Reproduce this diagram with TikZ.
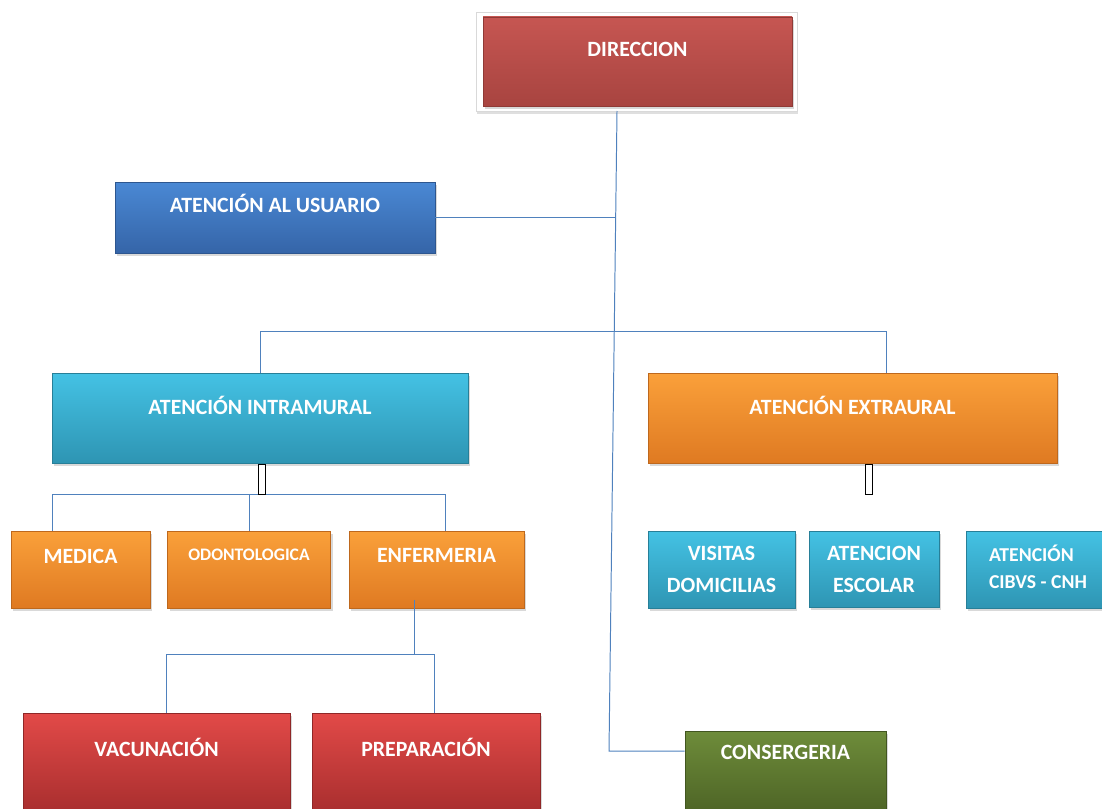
\documentclass[tikz,border=0pt]{standalone}
\usepackage{fontspec}
\setmainfont{Carlito}
\usetikzlibrary{shadows}

\definecolor{linkblue}{HTML}{4F81BD}
\definecolor{dirTop}{HTML}{C65652}
\definecolor{dirBot}{HTML}{A84440}
\definecolor{usuTop}{HTML}{4A88D4}
\definecolor{usuBot}{HTML}{3565A8}
\definecolor{cyanTop}{HTML}{44C2E4}
\definecolor{cyanBot}{HTML}{2E95B3}
\definecolor{orTop}{HTML}{FAA03A}
\definecolor{orBot}{HTML}{DF7A22}
\definecolor{redTop}{HTML}{E24A48}
\definecolor{redBot}{HTML}{A82E2E}
\definecolor{grTop}{HTML}{6E8C3A}
\definecolor{grBot}{HTML}{4E6526}

\begin{document}
\begin{tikzpicture}[x=0.025cm, y=-0.025cm,
  link/.style={draw=linkblue, line width=0.7pt},
  sz/.style 2 args={minimum width=#1*0.025cm, minimum height=#2*0.025cm},
  box/.style 2 args={rectangle, inner sep=0pt, top color=#1, bottom color=#2,
    draw=#2!85!black, line width=0.4pt, text=white,
    font=\bfseries\fontsize{15.5}{18}\selectfont,
    drop shadow={shadow xshift=1.5pt, shadow yshift=-2pt, opacity=0.3}},
  lift/.style={text height=10pt, text depth=#1},
  stub/.style={rectangle, inner sep=0pt, fill=white, draw=black, line width=0.6pt}]

\useasboundingbox (0,0) rectangle (1102,808);

% === Direccion ===
\node[rectangle, sz={321}{99}, fill=white, draw=black!15,
  drop shadow={shadow xshift=1pt, shadow yshift=-2pt, opacity=0.25}]
  (marco) at (636.5,61.5) {};
\node[box={dirTop}{dirBot}, sz={309}{89}, lift=16.4pt]
  (dir) at (637.5,61.5) {DIRECCION};

% === Atencion al usuario ===
\node[box={usuTop}{usuBot}, sz={320}{71}, lift=17.8pt]
  (usu) at (275,217.5) {ATENCIÓN AL USUARIO};

% === Intramural / Extramural ===
\node[box={cyanTop}{cyanBot}, sz={416}{90}, lift=15.6pt]
  (intra) at (260,418) {ATENCIÓN INTRAMURAL};
\node[box={orTop}{orBot}, sz={409}{90}, lift=15.6pt]
  (extra) at (852.5,418) {ATENCIÓN EXTRAURAL};

% === Intramural areas ===
\node[box={orTop}{orBot}, sz={139}{77}, lift=19.2pt]
  (med) at (80.5,569.5) {MEDICA};
\node[box={orTop}{orBot}, sz={163}{77}, lift=22.6pt,
  font=\bfseries\fontsize{12.5}{15}\selectfont]
  (odo) at (249,569.5) {ODONTOLOGICA};
\node[box={orTop}{orBot}, sz={175}{77}, lift=20.6pt]
  (enf) at (436.5,569.5) {ENFERMERIA};

% === Extramural areas ===
\node[box={cyanTop}{cyanBot}, sz={147}{77}, align=center,
  font=\bfseries\fontsize{15.5}{22.8}\selectfont]
  (vis) at (721.5,569.5) {VISITAS\\DOMICILIAS};
\node[box={cyanTop}{cyanBot}, sz={130}{76}, align=center,
  font=\bfseries\fontsize{15.5}{22.8}\selectfont]
  (esc) at (874,569) {ATENCION\\ESCOLAR};
\node[box={cyanTop}{cyanBot}, sz={144}{77},
  font=\bfseries\fontsize{14}{19.2}\selectfont]
  (cib) at (1038,569.5)
  {\raisebox{5pt}{\begin{tabular}{@{}l@{}}ATENCIÓN\\CIBVS - CNH\end{tabular}}\hspace{10pt}};

% === Enfermeria ===
\node[box={redTop}{redBot}, sz={267}{100}, lift=19.9pt]
  (vac) at (156.5,763) {VACUNACIÓN};
\node[box={redTop}{redBot}, sz={228}{100}, lift=19.9pt]
  (pre) at (426,763) {PREPARACIÓN};

% === Consergeria ===
\node[box={grTop}{grBot}, sz={201}{80}, lift=27pt]
  (cons) at (785.5,771) {CONSERGERIA};

% === Connections ===
\coordinate (trunkTop) at (617,111);
\coordinate (trunkBot) at (609,751);
\draw[link] (trunkTop) -- (trunkBot) -- (trunkBot -| cons.west);
\draw[link] (usu.east) -- (usu.east -| 616,0);

% Direccion -> areas
\coordinate (busR) at (886,331);
\draw[link] (intra.north) |- (busR) -- (busR |- extra.north);

% Intramural -> areas
\coordinate (subL) at (52,494);
\coordinate (subR) at (445,494);
\draw[link] (med.north -| subL) -- (subL) -- (subR) -- (enf.north -| subR);
\draw[link] (odo.north) -- (odo.north |- subL);

% Enfermeria -> areas
\coordinate (enfBus) at (414,654);
\coordinate (vacBus) at (166,654);
\coordinate (preBus) at (434,654);
\draw[link] ([yshift=6pt]enf.south -| enfBus) -- (enfBus);
\draw[link] (vac.north -| vacBus) -- (vacBus) -- (preBus) -- (pre.north -| preBus);

% === Stubs ===
\node[stub, sz={7}{30}] (stubI) at (262,479) {};
\node[stub, sz={7}{30}] (stubE) at (868.5,479) {};
\end{tikzpicture}
\end{document}
